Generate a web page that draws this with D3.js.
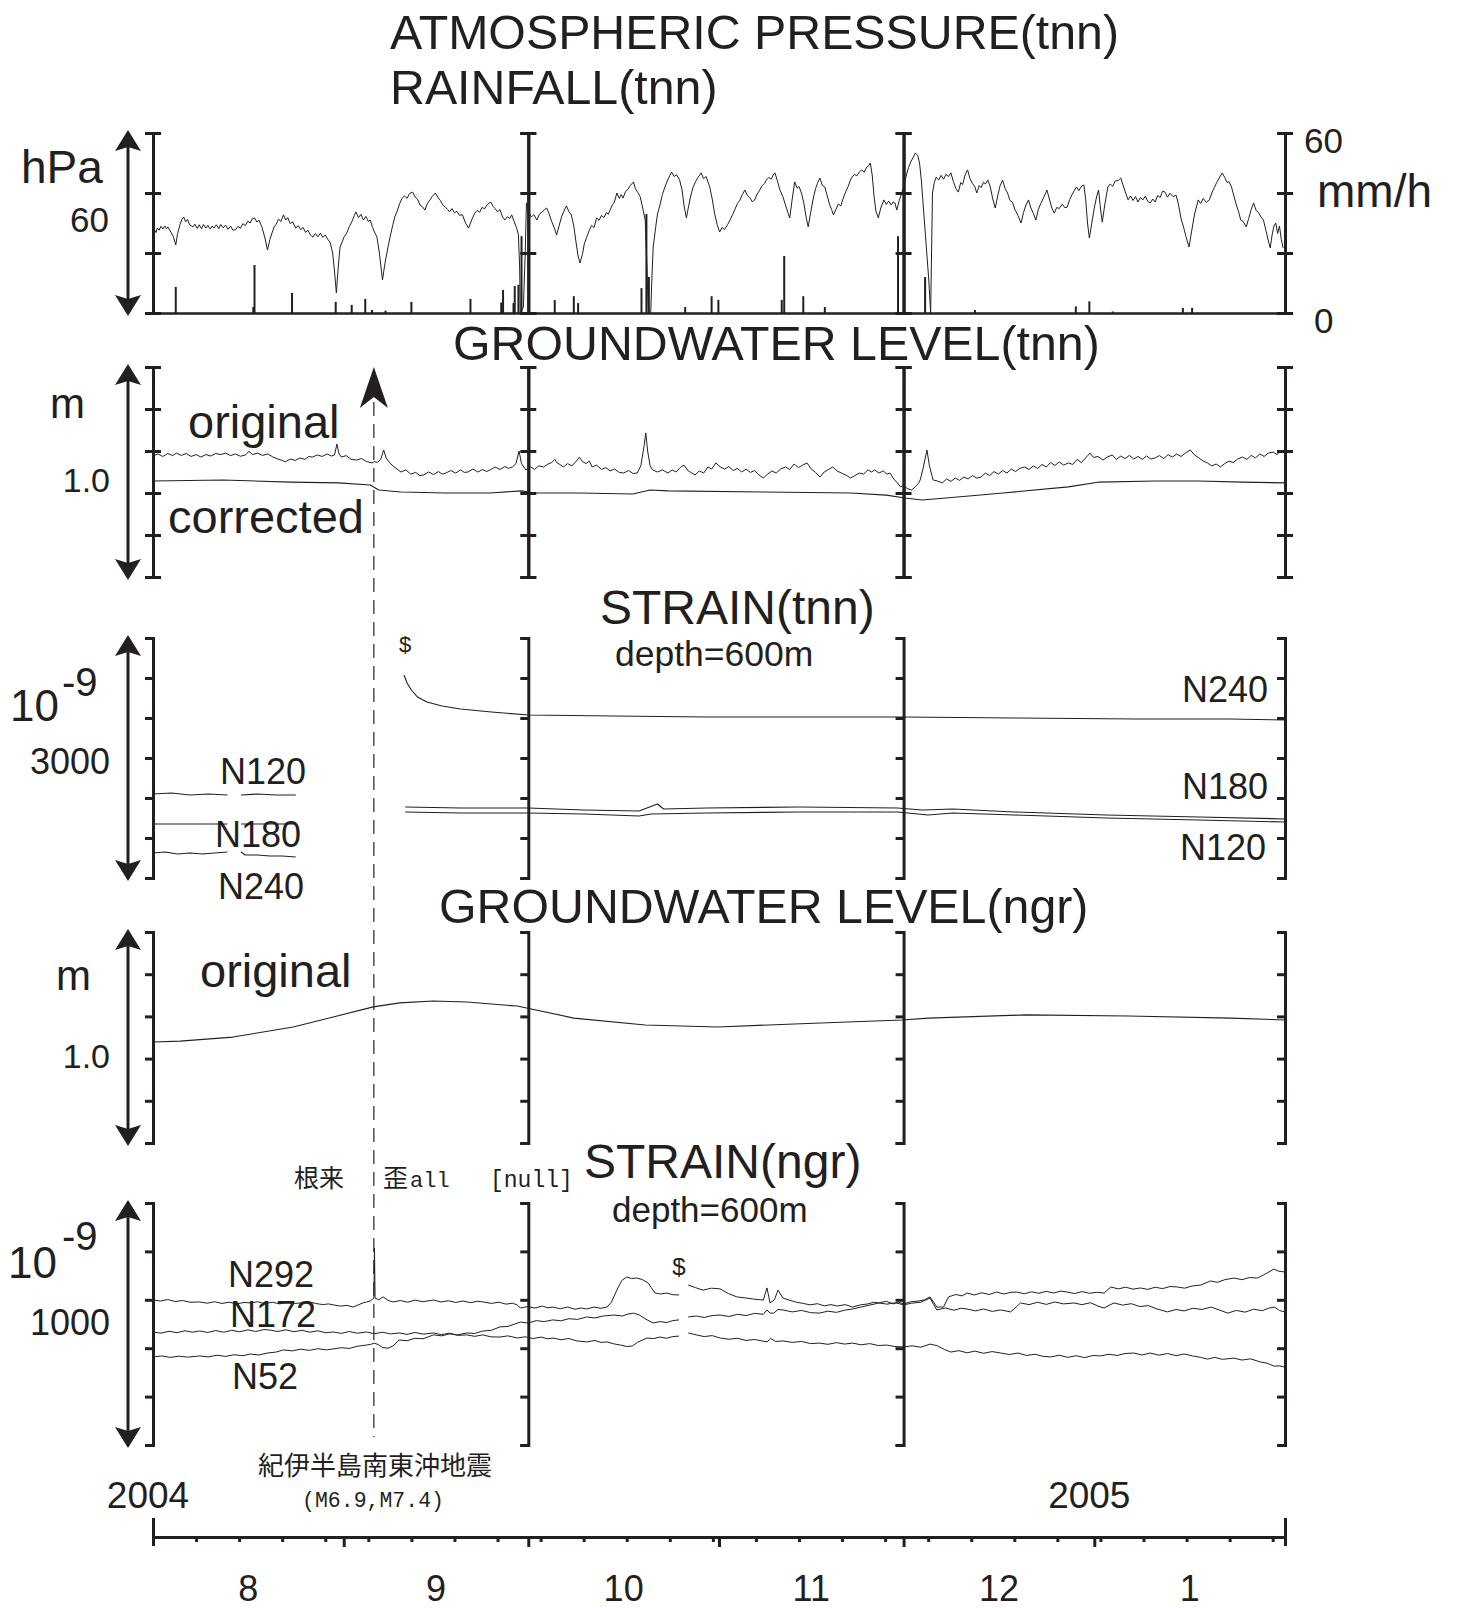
<!DOCTYPE html>
<html>
<head>
<meta charset="utf-8">
<script src="https://cdn.jsdelivr.net/npm/d3@7"></script>
<style>
body { margin: 0; background: #fff; }
svg text { font-family: "Liberation Sans", Arial, Helvetica, sans-serif; fill: #231f20; }
svg text.jp { font-family: "Noto Sans CJK JP", sans-serif; }
svg text.mono { font-family: "Liberation Mono", "DejaVu Sans Mono", monospace; }
</style>
</head>
<body>
<svg id="chart" width="1457" height="1608"></svg>
<script>
// days are counted from 2004-08-01 (UTC)
const pressure = [[0,995.0],[0.3,997.5],[0.5,996.8],[0.7,998.3],[1.0,997.6],[1.3,998.9],[1.6,998.0],[1.9,999.0],[2.2,998.1],[2.4,998.7],[2.9,997.0],[3.3,995.5],[3.7,992.7],
  [4.0,996.5],[4.4,999.5],[4.7,1001.2],[5.0,1002.0],[5.3,1000.4],[5.6,1001.2],[6.0,999.3],[6.5,998.7],[6.8,999.6],[7.2,998.2],[7.5,999.4],[7.9,998.1],[8.2,999.5],[8.6,998.3],[8.9,999.2],[9.3,998.0],[9.6,999.0],[9.9,998.3],
  [10.3,999.4],[10.7,998.1],[11.0,999.5],[11.4,998.4],[11.8,999.3],[12.2,997.9],[12.6,999.0],[13.0,997.6],[13.4,997.7],[13.8,998.9],[14.2,998.2],[14.6,999.8],[15.0,999.1],[15.4,1000.6],[15.8,1000.0],[16.1,1001.3],[16.5,1001.7],
  [16.9,1000.3],[17.2,1001.0],[17.7,998.7],[18.2,995.0],[18.6,991.0],[19.0,994.5],[19.4,997.0],[19.7,998.7],[20.0,999.5],[20.4,1001.3],[20.8,1000.5],[21.2,1002.7],
  [21.6,1001.0],[21.9,1001.8],[22.3,999.8],[22.7,1000.4],[23.2,998.3],[23.6,999.1],[24.0,997.8],[24.4,998.5],[24.8,996.9],[25.2,997.6],[25.6,996.0],[26.0,995.3],[26.4,996.5],[26.8,995.4],[27.2,996.6],[27.6,995.2],[28.0,996.0],[28.4,994.6],[28.8,993.5],
  [29.2,990.0],[29.5,984.0],[29.8,976.7],[30.1,985.0],[30.4,992.0],[30.8,994.0],[31.1,995.5],[31.5,996.7],[31.9,998.8],[32.3,1000.3],[32.7,1002.4],[33.0,1003.7],[33.4,1001.8],[33.8,1002.9],[34.2,1001.0],[34.6,1002.2],[35.0,1000.5],[35.3,1001.0],[35.7,998.5],[36.0,997.0],[36.4,995.3],[36.8,990.0],
  [37.3,981.0],[37.7,986.5],[38.2,992.0],[38.6,996.0],[39.0,999.5],[39.3,1002.0],[39.7,1004.0],[40.1,1006.5],[40.5,1008.3],[40.9,1009.0],[41.3,1008.2],[41.7,1009.8],[42.2,1010.3],[42.6,1008.7],[43.0,1007.9],[43.4,1006.0],[43.8,1005.4],[44.2,1004.3],[44.6,1006.5],[45.0,1007.6],[45.4,1008.9],[45.9,1010.0],[46.3,1008.6],[46.7,1007.5],[47.1,1006.0],[47.5,1005.3],[47.9,1004.5],[48.2,1003.7],[48.6,1004.8],[49.0,1003.4],[49.4,1003.9],[49.8,1002.6],[50.3,1002.7],[50.8,1000.0],[51.3,998.3],[51.8,1001.0],[52.3,1003.3],[52.7,1004.2],[53.1,1003.6],[53.5,1005.2],[53.9,1004.7],[54.3,1006.1],[54.9,1007.0],[55.3,1005.5],[55.6,1004.8],[56.0,1003.7],
  [56.4,1004.5],[56.8,1002.0],[57.2,1001.0],[57.6,1002.1],[58.0,1001.5],[58.3,1002.7],[58.7,1000.5],[59.1,998.4],[59.4,996.0],[59.6,985.0],[59.7,970.0],[60.2,972.0],[60.5,990.0],[60.7,1006.7],[61.1,1003.5],[61.5,1002.0],[61.9,1002.8],[62.4,1001.0],[62.8,1002.9],[63.2,1003.6],[63.6,1004.4],[64.0,1005.0],[64.4,1003.0],[64.8,1000.5],[65.2,998.5],[65.6,996.0],[66.0,999.0],[66.4,1002.0],[66.8,1004.0],[67.2,1005.7],[67.6,1003.8],[68.0,1002.7],[68.4,999.0],[68.8,993.0],[69.1,989.0],
  [69.4,986.7],[69.8,989.5],[70.1,993.0],[70.5,995.3],[70.9,997.5],[71.3,999.2],[71.7,998.5],[72.1,1001.7],[72.5,1000.9],[72.9,1002.5],[73.3,1001.8],[73.7,1003.5],[74.0,1002.9],[74.3,1004.3],[74.7,1006.2],[75.0,1007.0],[75.4,1010.0],[75.8,1008.2],[76.1,1009.5],[76.4,1008.3],[76.8,1010.5],[77.2,1011.2],[77.6,1012.5],[78.1,1013.7],[78.4,1011.5],[78.8,1010.2],[79.2,1008.7],[79.6,1005.0],
  [80.0,1001.0],[80.3,985.0],[80.5,970.0],[80.9,970.0],[81.1,982.0],[81.3,992.0],[81.7,998.5],[82.0,1003.0],[82.4,1006.0],[82.8,1009.5],[83.2,1012.0],[83.6,1014.0],[84.0,1015.8],[84.3,1017.0],[84.7,1015.5],[85.1,1016.1],[85.6,1014.3],[86.0,1011.0],[86.3,1006.0],[86.7,1001.7],[87.0,1005.0],[87.4,1009.0],[87.8,1012.0],[88.2,1013.8],[88.6,1015.2],[89.1,1016.7],[89.5,1014.8],[89.9,1015.5],[90.5,1012.0],[90.9,1008.0],[91.3,1003.0],[91.7,999.5],[92.1,997.0],
  [92.5,998.5],[92.9,997.8],[93.4,999.5],[93.8,1001.0],[94.2,1002.8],[94.6,1004.6],[95.0,1006.5],[95.4,1007.6],[95.8,1009.5],[96.2,1011.0],[96.6,1009.2],[97.0,1008.5],[97.4,1007.1],[97.8,1007.7],[98.2,1009.6],[98.6,1010.9],[99.0,1012.4],[99.4,1013.2],[99.7,1014.3],[100.1,1015.2],[100.5,1014.6],[100.8,1016.0],[101.1,1016.7],[101.5,1014.0],[101.9,1011.0],[102.4,1008.7],[102.8,1006.0],[103.2,1003.5],[103.5,1001.7],[103.9,1008.0],[104.3,1013.7],[104.7,1011.6],[105.0,1012.2],[105.4,1010.0],[105.8,1006.5],[106.2,1001.5],[106.5,998.7],[106.9,1003.5],[107.3,1008.0],[107.7,1011.5],[108.0,1013.2],[108.4,1015.0],[108.8,1012.5],[109.2,1012.0],[109.6,1009.0],[110.0,1006.0],[110.3,1004.5],[110.6,1002.7],[111.0,1004.5],[111.4,1006.3],[111.8,1005.7],[112.2,1008.3],[112.6,1010.5],[113.0,1012.2],[113.3,1014.0],[113.6,1015.3],[114.0,1016.2],[114.4,1015.7],[114.8,1017.0],[115.2,1017.7],[115.6,1016.9],[116.0,1018.6],[116.3,1019.0],[116.6,1020.0],[116.9,1016.0],[117.2,1009.0],[117.5,1004.0],[117.9,1001.7],
  [118.3,1005.0],[118.8,1007.7],[119.2,1006.2],[119.6,1007.3],[120.0,1006.0],[120.3,1007.0],[120.6,1006.7],[120.9,1004.3],[121.3,1007.5],[121.7,1010.0],[122.0,1012.0],[122.4,1015.5],[122.8,1018.5],[123.2,1020.5],[123.6,1022.0],[123.9,1023.3],[124.3,1022.6],[124.6,1020.0],[124.9,1014.0],[125.3,1003.0],[125.7,992.0],[126.1,981.0],[126.4,970.0],[126.55,990.0],[126.7,1010.0],[127.0,1013.5],[127.3,1015.3],[127.7,1014.3],[128.1,1015.9],[128.5,1014.6],[128.9,1016.2],[129.3,1015.5],[129.7,1016.7],[130.1,1013.8],[130.5,1011.5],[130.9,1010.3],[131.3,1013.5],[131.6,1012.8],[132.0,1016.0],[132.4,1017.7],[132.8,1014.8],[133.2,1013.2],[133.6,1012.0],[133.9,1010.0],[134.3,1012.5],[134.6,1011.8],[135.0,1013.6],[135.3,1013.0],[135.7,1014.3],[136.1,1012.0],[136.5,1008.0],[136.9,1005.0],[137.3,1009.0],[137.7,1012.5],[138.1,1014.3],[138.5,1011.5],[138.9,1010.0],[139.3,1007.5],[139.7,1006.9],[140.1,1004.5],[140.6,1002.5],[141.1,1000.0],[141.5,1003.5],[141.9,1006.0],[142.3,1007.7],[142.7,1005.0],[143.1,1003.2],[143.5,1001.0],[143.9,1004.5],[144.3,1006.5],[144.8,1008.6],[145.3,1011.0],[145.7,1008.0],[146.1,1005.0],[146.5,1003.3],[146.9,1005.2],[147.3,1004.8],[147.8,1006.3],[148.2,1005.1],[148.6,1005.3],[149.0,1007.8],[149.4,1009.5],[149.8,1011.0],[150.1,1012.0],[150.5,1010.8],[150.9,1012.2],[151.3,1012.7],[151.6,1008.0],[151.9,1000.0],[152.2,995.0],[152.6,1000.0],[153.0,1005.0],[153.4,1009.0],[153.7,1011.0],[154.0,1005.0],[154.3,1000.3],[154.7,1006.0],[155.2,1012.0],[155.6,1013.0],[156.0,1012.2],[156.4,1014.0],[156.9,1014.2],[157.3,1015.0],[157.7,1012.5],[158.1,1010.0],[158.5,1007.7],[158.9,1009.0],[159.3,1007.5],[159.7,1008.8],[160.1,1007.0],[160.5,1008.5],[160.9,1007.7],[161.3,1009.0],[161.7,1007.2],[162.1,1006.7],[162.5,1008.0],[162.9,1007.0],[163.3,1009.2],[163.7,1008.5],[164.1,1010.6],[164.5,1010.3],[164.9,1008.6],[165.3,1009.9],[165.8,1008.8],[166.3,1009.3],[166.7,1006.0],[167.1,1001.5],[167.5,998.7],[167.9,995.5],[168.4,992.0],[168.8,997.0],[169.3,1003.0],[169.9,1007.7],[170.3,1006.5],[170.7,1008.2],[171.2,1006.9],[171.7,1007.7],[172.1,1010.0],[172.5,1011.8],[172.9,1013.5],[173.3,1015.0],[173.8,1016.7],[174.2,1015.2],[174.6,1013.5],[174.9,1013.8],[175.3,1012.0],[175.7,1009.0],[176.1,1006.0],[176.5,1003.5],[176.8,1001.0],[177.2,1000.5],[177.7,998.7],[178.1,1001.5],[178.5,1004.5],[178.9,1006.7],[179.3,1004.2],[179.7,1003.5],[180.1,1002.0],[180.5,1001.0],[180.9,997.5],[181.3,994.0],[181.6,991.7],[181.9,996.0],[182.2,999.0],[182.5,1000.0],[182.8,996.5],[183.1,999.0],[183.4,994.5],[183.7,991.7]]

const rainfall = [[3.7,8.7],[16.3,2],[16.5,16],[22.6,6.7],[29.7,3.7],[32.3,2.7],[34.5,4.7],[35.6,1],[37.8,0.8],[42,3.7],
  [51.6,4.7],[56.6,3.5],[56.9,7.7],[58.6,3.3],[58.8,9],[59.4,9.4],[59.9,25.6],[65.3,4.3],[68.4,5.6],[69.1,3.3],
  [79.4,8.3],[80.2,33],[80.6,12],[86.5,2],[90.8,5.6],[91.9,4.4],[102.2,4.4],[102.6,19],[105.7,5.6],[109.2,2],
  [121.1,25.6],[125.5,12],[133.6,1],[150,2.2],[152.2,3.9],[156,0.5],[167.4,1.7],[168.9,1.7]]

const gwTnnOriginal = [[0,0.576],[0.8,0.586],[1.6,0.574],[2.4,0.588],[3.2,0.578],[3.8,0.590],[4.6,0.579],[5.4,0.588],[6.2,0.574],[7.0,0.583],[7.8,0.571],[8.6,0.583],[9.4,0.576],[10.2,0.588],[11.0,0.583],[11.8,0.590],[12.6,0.578],[13.4,0.586],[14.2,0.575],[15.0,0.581],[15.6,0.598],[16.2,0.583],[17.0,0.590],[17.8,0.579],[18.7,0.586],[19.5,0.571],[20.3,0.562],[21.0,0.555],[21.5,0.548],[22.3,0.562],[23.1,0.555],[23.9,0.567],[24.7,0.560],[25.3,0.574],[25.9,0.571],[26.7,0.581],[27.5,0.574],[28.3,0.586],[29.0,0.576],[29.5,0.581],[29.9,0.633],[30.2,0.590],[30.6,0.571],[31.4,0.578],[32.2,0.560],[33.1,0.557],[33.9,0.564],[34.7,0.550],[35.6,0.543],[36.0,0.550],[36.5,0.545],[37.0,0.560],[37.5,0.605],[37.9,0.567],[38.5,0.543],[39.2,0.524],[40.3,0.500],[41.1,0.510],[41.9,0.490],[42.7,0.498],[43.4,0.483],[44,0.486],[44.8,0.500],[45.6,0.488],[46.4,0.502],[47.0,0.490],[47.6,0.495],[48.4,0.507],[49.2,0.495],[50.0,0.510],[50.6,0.498],[51.2,0.500],[52.0,0.514],[52.8,0.500],[53.6,0.512],[54.2,0.502],[54.8,0.510],[55.6,0.524],[56.4,0.512],[57.2,0.526],[57.8,0.517],[58.4,0.524],[59.0,0.540],[59.5,0.600],[59.9,0.540],[60.6,0.510],[61.4,0.524],[62.0,0.512],[62.7,0.529],[63.5,0.524],[64.2,0.538],[64.8,0.545],[65.3,0.560],[65.7,0.543],[66.2,0.535],[66.7,0.524],[67.4,0.540],[68.1,0.529],[68.8,0.552],[69.3,0.571],[69.8,0.550],[70.4,0.540],[70.9,0.552],[71.4,0.524],[72.1,0.533],[72.9,0.512],[73.6,0.521],[74.3,0.505],[75.0,0.514],[75.8,0.498],[76.5,0.495],[77.3,0.507],[78.0,0.493],[78.7,0.495],[79.3,0.530],[79.8,0.620],[80.1,0.686],[80.4,0.600],[80.8,0.530],[81.2,0.510],[82.0,0.500],[82.8,0.510],[83.7,0.495],[84.4,0.510],[85.0,0.500],[85.7,0.521],[86.3,0.533],[87.0,0.505],[87.6,0.495],[88.1,0.486],[88.8,0.505],[89.5,0.495],[90.2,0.524],[90.8,0.514],[91.5,0.543],[92.2,0.524],[92.9,0.514],[93.6,0.526],[94.3,0.507],[95.0,0.517],[95.7,0.500],[96.4,0.514],[97.1,0.498],[97.8,0.507],[98.5,0.486],[99.2,0.471],[99.9,0.490],[100.6,0.505],[101.3,0.495],[102.0,0.514],[102.8,0.524],[103.5,0.512],[104.2,0.538],[104.9,0.521],[105.6,0.533],[106.3,0.543],[107.0,0.514],[107.7,0.498],[108.4,0.476],[109.1,0.500],[109.8,0.512],[110.5,0.524],[111.2,0.505],[111.9,0.495],[112.6,0.486],[113.4,0.471],[114.1,0.483],[114.8,0.495],[115.5,0.490],[116.2,0.510],[116.8,0.500],[117.3,0.510],[118.0,0.495],[118.7,0.505],[119.3,0.490],[119.8,0.495],[120.4,0.467],[121.0,0.448],[121.5,0.429],[122.0,0.436],[122.6,0.421],[123.3,0.414],[123.9,0.429],[124.4,0.445],[124.7,0.462],[125.2,0.520],[125.8,0.605],[126.2,0.530],[126.8,0.462],[127.5,0.457],[128.3,0.448],[129.0,0.467],[129.7,0.455],[130.4,0.471],[131.1,0.460],[131.8,0.476],[132.5,0.467],[133.2,0.483],[133.9,0.471],[134.6,0.476],[135.3,0.495],[136.0,0.483],[136.7,0.502],[137.4,0.490],[138.1,0.507],[138.8,0.495],[139.5,0.514],[140.2,0.502],[140.9,0.517],[141.7,0.524],[142.4,0.512],[143.1,0.529],[143.8,0.517],[144.5,0.536],[145.2,0.524],[145.9,0.545],[146.6,0.531],[147.3,0.548],[148.0,0.533],[148.8,0.543],[149.5,0.536],[150.2,0.560],[150.9,0.545],[151.6,0.567],[152.3,0.590],[152.9,0.569],[153.6,0.574],[154.4,0.557],[155.1,0.571],[155.9,0.581],[156.6,0.560],[157.3,0.576],[158.0,0.564],[158.7,0.579],[159.4,0.562],[160.1,0.574],[160.8,0.560],[161.5,0.576],[162.2,0.562],[162.9,0.567],[163.6,0.578],[164.3,0.564],[165.0,0.583],[165.7,0.571],[166.4,0.586],[167.1,0.574],[167.8,0.590],[168.6,0.605],[169.3,0.581],[170,0.567],[170.7,0.552],[171.4,0.543],[172.1,0.529],[172.8,0.538],[173.5,0.524],[174.2,0.540],[174.9,0.552],[175.6,0.545],[176.3,0.562],[177.1,0.571],[177.8,0.560],[178.5,0.579],[179.2,0.567],[179.9,0.586],[180.6,0.574],[181.3,0.590],[182.1,0.595],[182.7,0.583],[183.3,0.600],[183.9,0.590]]

const gwTnnCorrected = [[0,0.457],[11.4,0.462],[22.3,0.452],[30.2,0.448],[35.3,0.438],[36.7,0.414],[40.3,0.405],[47.6,0.400],[54.8,0.400],[59.9,0.410],
  [62,0.400],[69.3,0.400],[78,0.395],[80.8,0.414],[83.7,0.410],[99.2,0.405],[113.4,0.400],[119.2,0.390],[122.2,0.376],[125,0.367],
  [128.9,0.376],[138.2,0.400],[148.8,0.429],[153.8,0.452],[162.9,0.457],[170,0.457],[177.1,0.452],[183.9,0.448]]

// null marks the gaps in the record
const strainTnnN120 = [[0,1050],[3,1062],[6,1038],[9,1050],[12.1,1038],[13,null],[14.3,1038],[17,1050],[20,1038],[23.2,1038],[30,null],
  [41,825],[50,812],[61,812],[70,800],[79,775],[81,800],[90,812],[105,825],[121,825],[126,788],[130,812],[140,788],[155,750],[170,725],[184,700]]
const strainTnnN180 = [[0,675],[6,675],[12.1,675],[13,null],[14.3,675],[23.2,675],[30,null],
  [41,888],[50,875],[61,875],[70,850],[79,838],[82,925],[83,862],[90,875],[105,888],[121,875],[125,850],[130,862],[140,825],[155,788],[170,762],[184,738]]
const strainTnnN240 = [[0,312],[2,325],[4,300],[6,312],[8,300],[10,312],[12.1,325],[13,null],[14.3,325],[15,288],[17,288],[19,275],[21,275],[23.2,262],[30,null],
  [40.8,2538],[41.3,2438],[42,2350],[43,2262],[44.5,2200],[47,2150],[50,2112],[55,2075],[61,2038],[75,2025],[90,2012],[110,2012],[122,2012],[140,2000],[160,1988],[175,1988],[184,1975]]

const gwNgrOriginal = [[0,0.479],[4.4,0.483],[13,0.502],[22.8,0.550],[29.3,0.597],[35.8,0.645],[40.1,0.664],[45.5,0.673],[51,0.668],[59.2,0.649],
  [68.4,0.592],[80,0.559],[91.8,0.550],[108.5,0.569],[121.8,0.583],[126,0.592],[141.8,0.607],[158.5,0.602],[175.2,0.592],[184,0.583]]

const strainNgrN292 = [[0,599],[1.2,595],[2.4,601],[3.6,593],[4.8,597],[6.0,590],[7.6,591],[8.8,586],[10,592],[11.2,585],[12.4,590],[13.6,583],[14.8,589],[15.8,587],[17,592],[18.2,584],[19.4,590],[20.6,583],[21.8,591],[23,585],[24,587],[25.2,593],[26.4,585],[27.6,580],[28.5,583],[29.3,579],[30.5,574],[31.5,577],[32.5,570],[33.3,578],[34.0,586],[34.7,591],[35.3,595],[35.9,607],[36,814],[36.1,607],[36.7,600],[37.4,612],[38.2,598],[39,591],[40.2,597],[41.4,590],[42.6,599],[43.8,592],[45.6,599],[46.8,591],[48,596],[49.2,589],[50.4,595],[51.6,588],[52.8,594],[53.7,591],[55,585],[56.2,590],[57.4,582],[58.4,586],[59.2,579],[59.7,566],[60.9,572],[62.1,566],[63.3,574],[64.2,567],[65,570],[66.2,563],[67.4,570],[68.6,561],[69.6,566],[70.5,562],[71.7,570],[72.8,565],[73.8,570],[74.5,590],[75.4,640],[76.2,680],[77,694],[77.8,688],[78.6,690],[79.5,684],[80.5,669],[81.0,650],[81.6,628],[82.5,624],[83.5,628],[84.5,621],[85.5,620],[86.2,null],
  [87,661],[88.2,650],[89.4,640],[90.8,648],[92.2,645],[93.5,626],[94.9,612],[96.2,608],[97.6,603],[99.2,599],[99.8,649],[100.3,587],[101.0,600],[101.6,640],[102.4,607],[103.5,598],[104.6,590],[105.7,585],[106.8,579],[108,584],[109.1,575],[110.2,580],[111.2,574],[112.5,580],[113.7,570],[115,579],[116.2,583],[117.2,590],[118,587],[119.2,594],[120.3,583],[121.2,590],[122,583],[123.2,592],[124.4,595],[125.4,600],[126.3,612],[126.9,590],[127.4,570],[128.5,570],[129.3,612],[130.5,622],[131.5,616],[132.3,628],[133.5,620],[134.7,629],[135.9,622],[137.1,632],[138.3,624],[139.5,631],[140.4,632],[141.6,625],[142.8,633],[144,627],[145.2,635],[146.4,628],[147.6,636],[148.6,632],[149.8,626],[151,634],[152.2,627],[153.4,631],[154.6,628],[155.7,653],[156.9,645],[158.1,652],[159.3,644],[160.5,649],[161.7,643],[162.9,652],[164.1,646],[165.3,655],[166.5,653],[167.7,648],[168.9,657],[170.3,661],[171.9,678],[173,672],[174.2,683],[175.7,690],[177,683],[178.2,692],[179.5,690],[180.3,700],[181.1,711],[182.2,727],[183,718],[183.9,715]]
const strainNgrN172 = [[0,467],[1.3,462],[2.6,470],[3.9,464],[5.2,472],[6.4,466],[7.6,471],[8.9,465],[10.2,473],[11.5,466],[12.8,474],[14.1,468],[15.4,476],[16.7,469],[18,477],[19,475],[20.3,469],[21.6,476],[22.9,468],[24.2,474],[25.5,466],[26.8,472],[28,464],[29.3,467],[30.6,461],[31.9,469],[33.2,462],[34.7,467],[36.0,460],[37.3,466],[38.6,459],[40,463],[41.3,457],[42.6,465],[43.9,458],[45.6,463],[46.9,456],[48.2,462],[49.5,453],[51,455],[52.3,449],[53.6,455],[54.9,447],[56.4,446],[57.7,451],[59.2,442],[60.5,447],[61.8,440],[63.1,446],[64.1,439],[65,442],[66.3,435],[67.6,440],[68.9,430],[70.5,426],[71.8,432],[72.8,424],[73.8,426],[74.9,418],[76,413],[77.0,407],[77.9,409],[78.8,425],[80.3,442],[81.4,440],[82.4,446],[83.5,441],[84.5,448],[85.5,450],[86.2,null],
  [87,463],[88.3,455],[89.6,448],[90.9,452],[92.2,442],[93.6,437],[95,441],[96.4,432],[97.8,436],[99.8,426],[100.4,440],[101.2,428],[102.4,430],[103.9,424],[105.4,428],[106.9,419],[108.3,421],[109.7,416],[111.1,423],[112.4,417],[113.7,421],[115.1,414],[116.5,419],[117.9,411],[119.2,413],[120.6,407],[122,405],[123.4,410],[124.8,404],[126.3,417],[127.5,410],[128.6,395],[129.7,384],[131,390],[132.3,381],[133.6,388],[135,379],[136.4,386],[137.8,380],[139.2,374],[140.6,380],[142,370],[143.4,375],[144.7,366],[145.9,364],[147.3,371],[148.7,362],[150.1,369],[151.4,361],[152.8,370],[154,368],[155.4,375],[156.7,370],[158,378],[159.4,380],[160.8,372],[162.1,380],[163.5,371],[164.9,378],[166.3,369],[167.6,376],[169,368],[170.3,362],[171.4,355],[172.6,362],[173.8,354],[175.7,359],[177,351],[178.4,356],[180,343],[181.1,338],[182.2,326],[183.1,327],[183.9,322]]
const strainNgrN52 = [[0,364],[1.4,368],[2.8,362],[4.2,367],[5.6,363],[7.6,368],[9,364],[10.4,371],[11.8,366],[13.2,373],[14.6,369],[15.8,376],[17.2,372],[18.6,380],[20,384],[21.2,393],[22.6,389],[24,396],[25.4,391],[26.8,398],[28.2,393],[29.3,397],[30.6,402],[31.9,399],[33.2,408],[34.7,413],[35.4,416],[36,421],[36.6,415],[37.3,403],[38.2,400],[39,409],[40,434],[41.3,431],[42.6,441],[43.9,439],[45.6,455],[46.9,451],[48.2,459],[49.5,455],[51,463],[52.3,461],[53.6,471],[55,474],[56.4,488],[57.7,490],[58.8,500],[59.7,508],[61,504],[62.3,514],[63.6,510],[65,517],[66.3,513],[67.6,522],[69,519],[70.5,529],[71.8,525],[73.2,533],[74.9,537],[76.3,533],[77.2,541],[78.1,545],[79,538],[80.1,520],[81.3,504],[82.4,510],[83.5,506],[84.5,514],[85.5,517],[86.2,null],
  [87,529],[88.3,533],[89.6,527],[90.9,535],[92.2,537],[93.6,531],[95,540],[96.4,535],[97.8,544],[99.2,540],[99.8,558],[100.3,545],[100.9,545],[101.6,560],[102.4,558],[103.9,550],[105.4,556],[106.9,547],[108.3,545],[109.7,553],[111.1,548],[112.4,557],[113.7,562],[115.1,570],[116.5,578],[118,587],[119.3,582],[120.7,588],[122,579],[123.3,586],[124.8,590],[126.3,607],[126.9,580],[127.4,558],[128.8,566],[130.2,557],[131.3,565],[132.3,562],[133.7,554],[135,562],[136.4,552],[137.8,558],[139.4,550],[140.3,570],[141,587],[142.4,580],[143.8,590],[145.2,581],[146.6,591],[148,583],[149.7,587],[151,580],[152.4,588],[153.6,574],[154.6,566],[155.4,577],[156.2,587],[157.6,578],[159,584],[160.4,572],[161.8,576],[163.2,562],[164.9,550],[166.3,560],[167.6,554],[169,565],[170.5,560],[172,570],[173.3,558],[174.7,545],[176.1,556],[177.5,549],[178.9,561],[180.3,555],[181.3,565],[182.3,570],[183.1,556],[183.9,550]]

const pressTicks = [970, 990, 1010, 1030]
const gwTicks = [0, 0.2, 0.4, 0.6, 0.8, 1.0]
const strainTnnTicks = [0, 500, 1000, 1500, 2000, 2500, 3000]
const strainNgrTicks = [0, 200, 400, 600, 800, 1000]
const frameDays = [0, 61, 122, 184]          // Aug 1, Oct 1, Dec 1, Feb 1
const monthLabels = ['8', '9', '10', '11', '12', '1']
const yearLabels = [['2004', 0], ['2005', 153]]
const quakeDay = 35.9

const ink = '#231f20'
const T0 = Date.UTC(2004, 7, 1)
const toDate = d => new Date(T0 + d * 864e5)

const svg = d3.select('#chart')
const x = d3.scaleUtc().domain([toDate(0), toDate(184)]).range([153, 1285])

const panels = {
  press:  {top: 133,  bottom: 313,  domain: [970, 1030], ticks: pressTicks, both: true},
  gwTnn:  {top: 367,  bottom: 577,  domain: [0, 1],      ticks: gwTicks, both: true},
  stTnn:  {top: 638,  bottom: 878,  domain: [0, 3000],   ticks: strainTnnTicks, both: false},
  gwNgr:  {top: 932,  bottom: 1143, domain: [0, 1],      ticks: gwTicks, both: false},
  stNgr:  {top: 1203, bottom: 1445, domain: [0, 1000],   ticks: strainNgrTicks, both: false}
}
Object.values(panels).forEach(p => { p.y = d3.scaleLinear().domain(p.domain).range([p.bottom, p.top]) })

function styleAxis(g, w){
  g.selectAll('path, line').attr('stroke', ink).attr('stroke-width', w)
  g.selectAll('text').remove()
}

function drawFrame(p){
  frameDays.forEach(d => {
    const g = svg.append('g').attr('transform', `translate(${x(toDate(d))},0)`)
    g.call(d3.axisLeft(p.y).tickValues(p.ticks).tickSize(8)).call(styleAxis, 3)
    if (p.both){
      g.append('g').call(d3.axisRight(p.y).tickValues(p.ticks).tickSize(8)).call(styleAxis, 3)
    }
  })
}

function drawScaleArrow(y0, y1){
  const ax = 128
  svg.append('line').attr('x1', ax).attr('x2', ax).attr('y1', y0 + 12).attr('y2', y1 - 12)
    .attr('stroke', ink).attr('stroke-width', 3)
  svg.append('path').attr('d', `M${ax},${y0} L${ax+13},${y0+21} L${ax},${y0+17} L${ax-13},${y0+21}Z`).attr('fill', ink)
  svg.append('path').attr('d', `M${ax},${y1} L${ax+13},${y1-21} L${ax},${y1-17} L${ax-13},${y1-21}Z`).attr('fill', ink)
}

function drawSeries(p, data, w){
  const line = d3.line()
    .defined(d => d[1] != null)
    .x(d => x(toDate(d[0])))
    .y(d => p.y(d[1]))
  svg.append('path').datum(data).attr('d', line)
    .attr('fill', 'none').attr('stroke', ink).attr('stroke-width', w || 1.1).attr('stroke-linejoin', 'round')
}

function label(txt, x0, y0, size, opts = {}){
  const t = svg.append('text').attr('x', x0).attr('y', y0).attr('font-size', size).text(txt)
  if (opts.anchor) t.attr('text-anchor', opts.anchor)
  if (opts.cls) t.attr('class', opts.cls)
  return t
}

Object.values(panels).forEach(p => {
  drawFrame(p)
  drawScaleArrow(p.top - 3, p.bottom + 3)
})

// pressure & rainfall
const pp = panels.press
const rainY = d3.scaleLinear().domain([0, 60]).range([pp.bottom, pp.top])
svg.append('g').attr('transform', `translate(0,${pp.bottom})`)
  .call(d3.axisBottom(x).tickValues([]).tickSizeOuter(0)).call(styleAxis, 2.5)
svg.append('g').selectAll('line').data(rainfall).join('line')
  .attr('x1', d => x(toDate(d[0]))).attr('x2', d => x(toDate(d[0])))
  .attr('y1', rainY(0)).attr('y2', d => rainY(d[1]))
  .attr('stroke', ink).attr('stroke-width', 2)
drawSeries(pp, pressure, 1)

drawSeries(panels.gwTnn, gwTnnOriginal, 1)
drawSeries(panels.gwTnn, gwTnnCorrected)
drawSeries(panels.stTnn, strainTnnN120)
drawSeries(panels.stTnn, strainTnnN180)
drawSeries(panels.stTnn, strainTnnN240)
drawSeries(panels.gwNgr, gwNgrOriginal)
drawSeries(panels.stNgr, strainNgrN292, 1)
drawSeries(panels.stNgr, strainNgrN172, 1)
drawSeries(panels.stNgr, strainNgrN52, 1)

// earthquake marker
const qx = x(toDate(quakeDay))
svg.append('line').attr('x1', qx).attr('x2', qx).attr('y1', 402).attr('y2', 1437)
  .attr('stroke', ink).attr('stroke-width', 1.2).attr('stroke-dasharray', '14,8')
svg.append('path').attr('d', `M${qx},367 L${qx+14},408 L${qx},397 L${qx-14},408Z`).attr('fill', ink)

// time axis
const ta = svg.append('g').attr('transform', 'translate(0,1537)')
ta.append('g').call(d3.axisBottom(x).tickValues(d3.utcSunday.range(toDate(0), toDate(184))).tickSize(5).tickSizeOuter(0)).call(styleAxis, 3)
ta.append('g').call(d3.axisBottom(x).tickValues(d3.utcMonth.range(toDate(1), toDate(184))).tickSize(10).tickSizeOuter(0)).call(styleAxis, 3)
ta.append('g').call(d3.axisBottom(x).tickValues([toDate(0), toDate(184)]).tickSize(9).tickSizeOuter(0)).call(styleAxis, 3)
ta.append('g').call(d3.axisTop(x).tickValues([toDate(0), toDate(184)]).tickSize(19).tickSizeOuter(0)).call(styleAxis, 3)
d3.utcMonth.range(toDate(0), toDate(184)).forEach((m, i) => {
  const mid = new Date((+m + +d3.utcMonth.offset(m, 1)) / 2)
  label(monthLabels[i], x(mid), 1601, 36, {anchor: 'middle'})
})
yearLabels.forEach(([t, d]) => label(t, x(toDate(d)) - 5, 1508, 37, {anchor: 'middle'}))

// titles
label('ATMOSPHERIC PRESSURE(tnn)', 390, 49, 48.3)
label('RAINFALL(tnn)', 390, 104, 48.3)
label('GROUNDWATER LEVEL(tnn)', 453, 360, 48.3)
label('STRAIN(tnn)', 600, 624, 48)
label('depth=600m', 615, 666, 35.5)
label('GROUNDWATER LEVEL(ngr)', 439, 923, 48.3)
label('STRAIN(ngr)', 584, 1178, 48)
label('depth=600m', 612, 1222, 35)

// scale labels
label('hPa', 21, 183, 46)
label('60', 109, 232, 35, {anchor: 'end'})
label('60', 1304, 153, 35)
label('mm/h', 1317, 207, 46)
label('0', 1314, 333, 35)
label('m', 50, 418, 42)
label('1.0', 110, 492, 34, {anchor: 'end'})
label('original', 188, 438, 47)
label('corrected', 168, 533, 47)
label('10', 10, 721, 44)
label('-9', 62, 696, 40)
label('3000', 110, 774, 36, {anchor: 'end'})
label('N120', 220, 784, 36)
label('N180', 215, 847, 36)
label('N240', 218, 899, 36)
label('N240', 1268, 702, 36, {anchor: 'end'})
label('N180', 1268, 799, 36, {anchor: 'end'})
label('N120', 1266, 860, 36, {anchor: 'end'})
label('$', 405, 652, 22, {anchor: 'middle'})
label('m', 56, 990, 42)
label('1.0', 110, 1068, 34, {anchor: 'end'})
label('original', 200, 987, 47)
label('10', 8, 1278, 44)
label('-9', 62, 1250, 40)
label('1000', 110, 1335, 36, {anchor: 'end'})
label('N292', 228, 1287, 36)
label('N172', 230, 1327, 36)
label('N52', 232, 1389, 36)
label('$', 679, 1275, 24, {anchor: 'middle'})

// station / event notes
label('根来', 294, 1187, 25, {cls: 'jp'})
label('歪', 383, 1187, 25, {cls: 'jp'})
label('all', 410, 1187, 22, {cls: 'mono'})
label('[null]', 490, 1187, 23, {cls: 'mono'})
label('紀伊半島南東沖地震', 375, 1475, 26, {cls: 'jp', anchor: 'middle'})
label('(M6.9,M7.4)', 373, 1507, 21.5, {cls: 'mono', anchor: 'middle'})
</script>
</body>
</html>
